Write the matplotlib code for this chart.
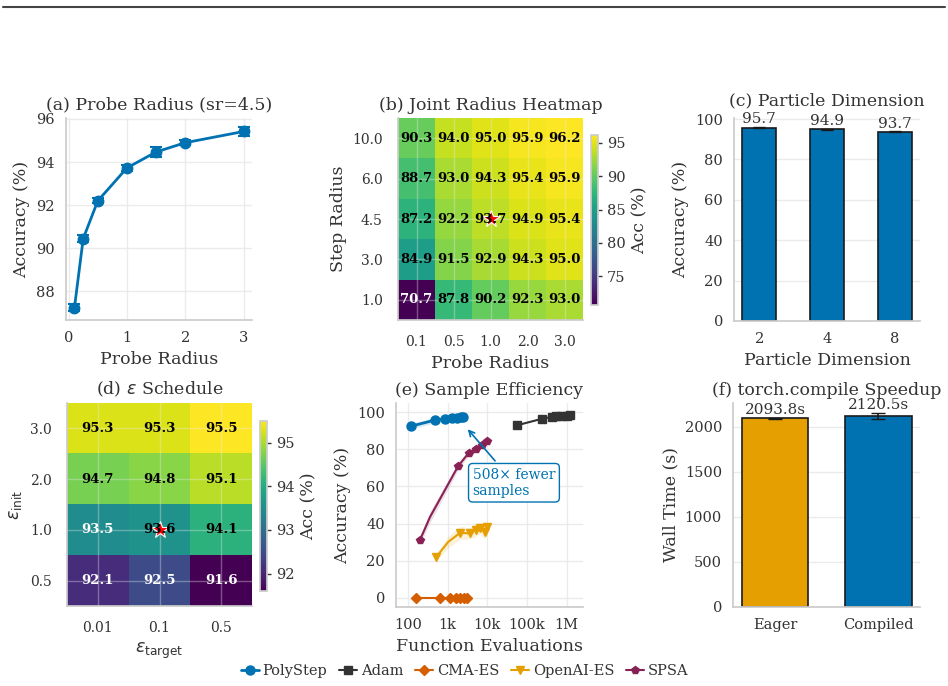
import numpy as np
import matplotlib
matplotlib.use("Agg")
import matplotlib.pyplot as plt
import seaborn as sns
from matplotlib.lines import Line2D
from matplotlib.ticker import FixedLocator

# (a) probe radius sweep
probe_r = [0.1, 0.25, 0.5, 1.0, 1.5, 2.0, 3.0]
probe_acc = [87.25, 90.45, 92.2, 93.73, 94.47, 94.9, 95.42]
probe_err = [0.15, 0.15, 0.12, 0.12, 0.25, 0.12, 0.2]

# (b) joint radius heatmap
joint_probe = ["0.1", "0.5", "1.0", "2.0", "3.0"]
joint_step = ["10.0", "6.0", "4.5", "3.0", "1.0"]
joint_acc = [
    [90.3, 94.0, 95.0, 95.9, 96.2],
    [88.7, 93.0, 94.3, 95.4, 95.9],
    [87.2, 92.2, 93.7, 94.9, 95.4],
    [84.9, 91.5, 92.9, 94.3, 95.0],
    [70.7, 87.8, 90.2, 92.3, 93.0],
]

# (c) particle dimension
pdim = ["2", "4", "8"]
pdim_acc = [95.7, 94.9, 93.7]
pdim_err = [0.2, 0.2, 0.2]

# (d) epsilon schedule
eps_target = ["0.01", "0.1", "0.5"]
eps_init = ["3.0", "2.0", "1.0", "0.5"]
eps_acc = [
    [95.3, 95.3, 95.5],
    [94.7, 94.8, 95.1],
    [93.5, 93.6, 94.1],
    [92.1, 92.5, 91.6],
]

# (e) sample efficiency
poly_x = [120, 480, 850, 1260, 1700, 2130, 2450]
poly_y = [92.5, 95.8, 96.5, 96.8, 97.0, 97.2, 97.3]
poly_s = [1.5, 1.5, 0.6, 0.5, 0.5, 0.4, 0.4]
adam_x = [57000, 240000, 440000, 550000, 740000, 1000000, 1200000]
adam_y = [93.0, 96.5, 97.5, 97.8, 98.0, 98.2, 98.3]
cma_x = [160, 640, 1150, 1620, 2050, 2560, 3150]
cma_y = [0, 0, 0, 0, 0, 0, 0]
oes_x = [510, 1050, 2070, 3600, 5100, 6400, 8700, 10000]
oes_y = [21.8, 30.2, 35.0, 34.7, 36.5, 37.4, 35.6, 38.0]
oes_s = [2.0, 3.0, 3.5, 3.0, 3.5, 3.0, 4.0, 4.0]
spsa_x = [200, 360, 1850, 3450, 5100, 7200, 9600]
spsa_y = [31.0, 43.5, 71.0, 78.2, 80.3, 82.5, 84.3]
spsa_s = [2.0, 3.0, 2.0, 1.5, 1.5, 1.5, 1.5]

# (f) compile speedup
modes = ["Eager", "Compiled"]
wall = [2093.8, 2120.5]
wall_err = [3, 35]

BLUE = "#0072B2"
ORANGE = "#E69F00"
VERM = "#D55E00"
DARK = "#333333"
WINE = "#882255"

sns.set_theme(style="whitegrid")
plt.rcParams["font.family"] = ["DejaVu Serif"]
plt.rcParams["axes.edgecolor"] = "#cccccc"
plt.rcParams["axes.linewidth"] = 1.25
plt.rcParams["grid.color"] = "#ebebeb"
plt.rcParams["text.color"] = "#333333"
plt.rcParams["axes.labelcolor"] = "#333333"
plt.rcParams["xtick.color"] = "#333333"
plt.rcParams["ytick.color"] = "#333333"

W, H = 948, 686
fig = plt.figure(figsize=(W / 100, H / 100), dpi=100)


def box(l, r, t, b):
    return [l / W, 1 - b / H, (r - l) / W, (b - t) / H]


def clean(ax, pad=8):
    for s in ["top", "right"]:
        ax.spines[s].set_visible(False)
    ax.tick_params(labelsize=10.5, length=0, pad=pad)
    ax.set_title(ax.get_title(), fontsize=12.5, pad=6)


fig.add_artist(Line2D([3 / W, 945 / W], [1 - 7 / H, 1 - 7 / H], color="#444444", lw=1.5))

# (a)
ax = fig.add_axes(box(66, 252, 118, 320))
ax.errorbar(probe_r, probe_acc, yerr=probe_err, color=BLUE, marker="o", ms=7.5,
            lw=2, capsize=4, capthick=1.5, elinewidth=1.5)
ax.set_xticks([0, 1, 2, 3])
ax.set_yticks([88, 90, 92, 94, 96])
ax.set_xlabel("Probe Radius", fontsize=12.5)
ax.set_ylabel("Accuracy (%)", fontsize=12.5)
ax.set_title("(a) Probe Radius (sr=4.5)")
clean(ax)


def heat(ax, cax, data, xl, yl, star, cticks):
    data = np.array(data)
    vmin, vmax = data.min(), data.max()
    im = ax.imshow(data, cmap="viridis", aspect="auto", vmin=vmin, vmax=vmax,
                   interpolation="nearest")
    mid = (vmin + vmax) / 2
    for i in range(data.shape[0]):
        for j in range(data.shape[1]):
            v = data[i, j]
            ax.text(j, i, f"{v:.1f}", ha="center", va="center", fontsize=9.5,
                    fontweight="bold", color="white" if v < mid else "black")
    ax.plot(star[0], star[1], marker="*", color="red", mec="white", mew=0.8,
            ms=13, ls="none")
    ax.set_xticks(range(len(xl)))
    ax.set_xticklabels(xl)
    ax.set_yticks(range(len(yl)))
    ax.set_yticklabels(yl)
    ax.grid(True, alpha=0.35)
    cb = fig.colorbar(im, cax=cax)
    cb.set_ticks(cticks)
    cb.outline.set_edgecolor("#cccccc")
    cb.outline.set_linewidth(1.25)
    cax.tick_params(labelsize=10.5, length=3, width=1, color="#333333")
    cb.set_label("Acc (%)", fontsize=12.5)
    return cb


# (b)
ax = fig.add_axes(box(398, 583, 118, 320))
cax = fig.add_axes(box(591, 598, 135, 305))
heat(ax, cax, joint_acc, joint_probe, joint_step, (2, 2), [75, 80, 85, 90, 95])
ax.set_xlabel("Probe Radius", fontsize=12.5)
ax.set_ylabel("Step Radius", fontsize=12.5)
ax.set_title("(b) Joint Radius Heatmap")
clean(ax, pad=11)
ax.tick_params(labelsize=10)

# (c)
ax = fig.add_axes(box(734, 920, 118, 321))
xs = np.arange(len(pdim))
ax.bar(xs, pdim_acc, width=0.5, color=BLUE, edgecolor="#1a1a1a", lw=1.2,
       yerr=pdim_err, capsize=4, error_kw=dict(ecolor="#1a1a1a", lw=1.2))
for x, v in zip(xs, pdim_acc):
    ax.text(x, v + 0.6, f"{v:.1f}", ha="center", va="bottom", fontsize=11)
ax.set_xticks(xs)
ax.set_xticklabels(pdim)
ax.set_ylim(0, 100.5)
ax.set_xlabel("Particle Dimension", fontsize=12.5)
ax.set_ylabel("Accuracy (%)", fontsize=12.5)
clean(ax)
ax.set_title("(c) Particle Dimension", fontsize=12.5, pad=9)
ax.xaxis.grid(False)

# (d)
ax = fig.add_axes(box(67, 252, 403, 606))
cax = fig.add_axes(box(260, 267, 421, 591))
heat(ax, cax, eps_acc, eps_target, eps_init, (1, 2), [92, 93, 94, 95])
ax.set_xlabel(r"$\varepsilon_{\mathrm{target}}$", fontsize=12.5)
ax.set_ylabel(r"$\varepsilon_{\mathrm{init}}$", fontsize=12.5)
ax.set_title(r"(d) $\varepsilon$ Schedule")
clean(ax, pad=11)
ax.tick_params(labelsize=10)

# (e)
ax = fig.add_axes(box(396, 583, 403, 607))


def series(x, y, s, color, marker, ms, lw, label, markevery=None):
    x = np.array(x, float)
    y = np.array(y, float)
    if s is not None:
        s = np.array(s, float)
        ax.fill_between(x, y - s, y + s, color=color, alpha=0.15, lw=0)
    ax.plot(x, y, color=color, marker=marker, ms=ms, lw=lw, label=label,
            markevery=markevery)


series(poly_x, poly_y, poly_s, BLUE, "o", 6.5, 2.0, "PolyStep")
series(adam_x, adam_y, None, DARK, "s", 5.5, 1.5, "Adam")
series(cma_x, cma_y, None, VERM, "D", 5, 1.5, "CMA-ES")
series(oes_x, oes_y, oes_s, ORANGE, "v", 6, 1.5, "OpenAI-ES",
       markevery=[0, 2, 3, 4, 5, 6, 7])
series(spsa_x, spsa_y, spsa_s, WINE, "p", 6, 1.5, "SPSA",
       markevery=[0, 2, 3, 4, 5, 6])
ax.set_xscale("log")
ax.set_xlim(50, 2.6e6)
ax.set_ylim(-5, 105)
ax.xaxis.set_major_locator(FixedLocator([1e2, 1e3, 1e4, 1e5, 1e6]))
ax.set_xticklabels(["100", "1k", "10k", "100k", "1M"])
ax.xaxis.set_minor_locator(FixedLocator([]))
ax.set_yticks([0, 20, 40, 60, 80, 100])
ax.annotate("508× fewer\nsamples", xy=(2900, 92), xytext=(4300, 62),
            ha="left", va="center", fontsize=10, color=BLUE,
            bbox=dict(boxstyle="round,pad=0.3", fc="white", ec=BLUE, lw=1),
            arrowprops=dict(arrowstyle="->", color=BLUE, lw=1.2))
ax.set_xlabel("Function Evaluations", fontsize=12.5)
ax.set_ylabel("Accuracy (%)", fontsize=12.5)
ax.set_title("(e) Sample Efficiency")
clean(ax)
handles, labels = ax.get_legend_handles_labels()

# (f)
ax = fig.add_axes(box(733, 920, 403, 607))
xs = np.arange(len(modes))
ax.bar(xs, wall, width=0.65, color=[ORANGE, BLUE], edgecolor="#1a1a1a", lw=1.2,
       yerr=wall_err, capsize=5, error_kw=dict(ecolor="#1a1a1a", lw=1.2))
for x, v, e in zip(xs, wall, wall_err):
    ax.text(x, v + e + 10, f"{v:.1f}s", ha="center", va="bottom", fontsize=11)
ax.set_xticks(xs)
ax.set_xticklabels(modes)
ax.set_yticks([0, 500, 1000, 1500, 2000])
ax.set_ylabel("Wall Time (s)", fontsize=12.5)
ax.set_title("(f) torch.compile Speedup")
clean(ax)
ax.xaxis.grid(False)

fig.legend(handles, labels, loc="center", bbox_to_anchor=(0.49, 1 - 671 / H),
           ncol=5, frameon=False, fontsize=10.5, handlelength=1.25,
           columnspacing=0.8, handletextpad=0.25)

fig.savefig("out.png", dpi=100)
